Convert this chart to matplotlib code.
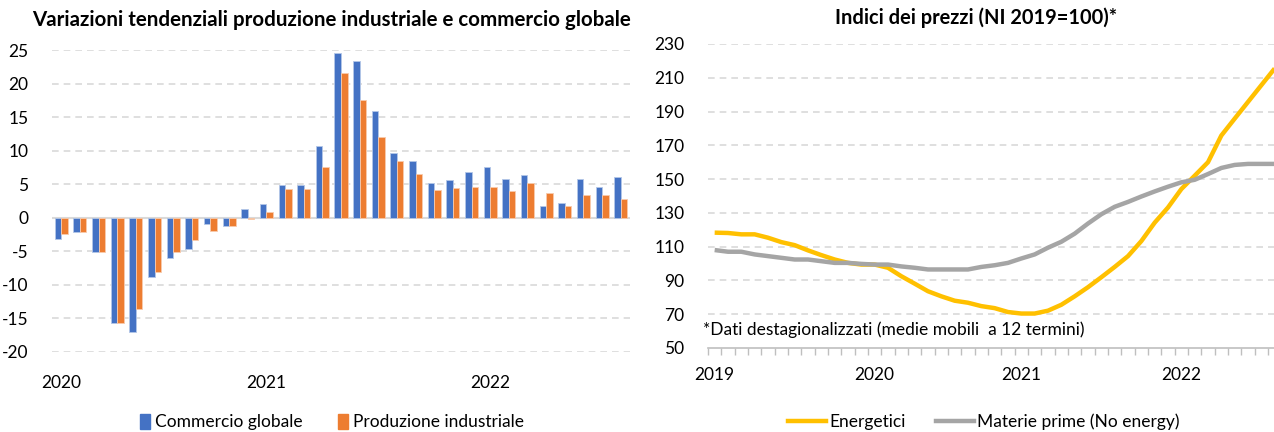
import numpy as np
import matplotlib
matplotlib.use("Agg")
import matplotlib.pyplot as plt
from matplotlib.patches import Patch
from matplotlib.lines import Line2D

plt.rcParams['font.family'] = ['Lato', 'DejaVu Sans']

# ---------------- data: left chart (monthly, Feb 2020 - Aug 2022) ----------------
commercio = [-3.2, -2.2, -5.1, -15.8, -17.1, -8.9, -6.1, -4.7, -0.9, -1.3,
             1.25, 2.0, 4.9, 4.9, 10.6, 24.6, 23.4, 15.85, 9.6, 8.4,
             5.1, 5.6, 6.8, 7.5, 5.8, 6.3, 1.75, 2.2, 5.8, 4.6, 6.0]
produzione = [-2.5, -2.2, -5.1, -15.8, -13.7, -8.2, -5.1, -3.4, -2.0, -1.3,
              -0.2, 0.8, 4.2, 4.2, 7.5, 21.5, 17.5, 12.0, 8.4, 6.5,
              4.1, 4.4, 4.6, 4.6, 3.9, 5.1, 3.6, 1.75, 3.4, 3.4, 2.7]
left_year_labels = ['2020', '2021', '2022']
left_year_pos = [0, 11, 23]
left_yticks = [-20, -15, -10, -5, 0, 5, 10, 15, 20, 25]

# ---------------- data: right chart (monthly, Jan 2019 - Jul 2022) ----------------
energetici = [118.3, 118.1, 117.3, 117.3, 115.3, 112.7, 110.9, 107.8, 105.0, 102.4,
              100.4, 99.4, 99.4, 97.5, 92.5, 88.1, 83.6, 80.6, 78.0, 76.8,
              74.8, 73.6, 71.3, 70.4, 70.4, 72.1, 75.6, 80.6, 86.0, 91.9,
              98.0, 104.4, 113.3, 124.2, 133.2, 144.1, 152.0, 160.0, 175.8, 185.8,
              195.7, 205.6, 215.5]
materie = [108.0, 107.0, 107.0, 105.4, 104.4, 103.4, 102.4, 102.4, 101.4, 100.4,
           100.4, 99.8, 99.4, 99.4, 98.3, 97.5, 96.5, 96.5, 96.5, 96.5,
           98.0, 99.0, 100.4, 103.0, 105.4, 109.4, 112.9, 117.7, 123.7, 129.2,
           133.6, 136.5, 139.7, 142.7, 145.5, 148.1, 149.6, 153.0, 156.6, 158.4,
           159.0, 159.0, 159.0]
right_year_labels = ['2019', '2020', '2021', '2022']
right_year_pos = [0, 12, 23, 35]
right_yticks = [50, 70, 90, 110, 130, 150, 170, 190, 210, 230]

BLUE = '#4472C4'
ORANGE = '#ED7D31'
YELLOW = '#FFC000'
GRAY = '#A5A5A5'
GRID = '#D9D9D9'
TXT = '#000000'

fig = plt.figure(figsize=(12.74, 4.32), dpi=100)

# ---------------- left chart ----------------
ax1 = fig.add_axes([52/1274, 1-351.5/432, (630-52)/1274, (351.5-50)/432])
x = np.arange(len(commercio))
w = 0.35
ax1.bar(x - w/2, commercio, w, color=BLUE, edgecolor='#B4C7E7', linewidth=0.6, zorder=3)
ax1.bar(x + w/2, produzione, w, color=ORANGE, edgecolor='#F8CBAD', linewidth=0.6, zorder=3)
ax1.set_xlim(-0.5, len(commercio) - 0.5)
ax1.set_ylim(-20, 25)
ax1.set_yticks(left_yticks)
ax1.set_yticklabels([str(v) for v in left_yticks])
for v in left_yticks:
    if v != 0:
        ax1.axhline(v, color=GRID, lw=1.2, ls=(0, (4, 3)), zorder=1)
ax1.axhline(0, color='#D9D9D9', lw=1.5, zorder=2)
for s in ax1.spines.values():
    s.set_visible(False)
ax1.set_xticks(left_year_pos)
ax1.set_xticklabels(left_year_labels)
ax1.tick_params(axis='x', length=0, pad=17, labelsize=12.5, colors=TXT)
ax1.tick_params(axis='y', length=0, pad=17, labelsize=12.5, colors=TXT)
fig.text(331/1274, 1-20/432, 'Variazioni tendenziali produzione industriale e commercio globale',
         ha='center', va='center', fontsize=14.8, fontweight='bold', color=TXT)

fig.legend(handles=[Patch(color=BLUE, label='Commercio globale'),
                    Patch(color=ORANGE, label='Produzione industriale')],
           loc='center', bbox_to_anchor=(332/1274, 1-422/432), ncol=2, frameon=False,
           fontsize=12.5, handlelength=0.6, handleheight=1.0, handletextpad=0.3,
           columnspacing=2.0)

# ---------------- right chart ----------------
ax2 = fig.add_axes([708/1274, 1-348/432, (1274-708)/1274, (348-44)/432])
xi = np.arange(len(energetici))
ax2.plot(xi, energetici, color=YELLOW, lw=3.2, solid_capstyle='butt', zorder=3)
ax2.plot(xi, materie, color=GRAY, lw=3.2, solid_capstyle='butt', zorder=3)
ax2.set_xlim(-0.5, 41.95)
ax2.set_ylim(50, 230)
ax2.set_yticks(right_yticks)
ax2.set_yticklabels([str(v) for v in right_yticks])
for v in right_yticks[1:]:
    ax2.axhline(v, color=GRID, lw=1.2, ls=(0, (4, 3)), zorder=1)
for k in ['top', 'right', 'left']:
    ax2.spines[k].set_visible(False)
ax2.spines['bottom'].set_color('#BFBFBF')
ax2.spines['bottom'].set_linewidth(1.2)
ax2.set_xticks(right_year_pos)
ax2.set_xticklabels(right_year_labels)
ax2.set_xticks(np.arange(-0.5, 42, 1), minor=True)
ax2.tick_params(axis='x', which='major', length=0, pad=14, labelsize=12.5, colors=TXT)
ax2.tick_params(axis='x', which='minor', length=5, width=1, color='#BFBFBF', direction='out')
ax2.tick_params(axis='y', length=0, pad=17, labelsize=12.5, colors=TXT)
ax2.text(703/1274, 1-330/432, '*Dati destagionalizzati (medie mobili  a 12 termini)',
         transform=fig.transFigure, ha='left', va='center', fontsize=12.5, color=TXT)
fig.text(976/1274, 1-18/432, 'Indici dei prezzi (NI 2019=100)*',
         ha='center', va='center', fontsize=14.4, fontweight='bold', color=TXT)

fig.legend(handles=[Line2D([], [], color=YELLOW, lw=3.2, label='Energetici'),
                    Line2D([], [], color=GRAY, lw=3.2, label='Materie prime (No energy)')],
           loc='center', bbox_to_anchor=(984/1274, 1-422/432), ncol=2, frameon=False,
           fontsize=12.5, handlelength=2.2, handletextpad=0.2, columnspacing=1.7)

fig.savefig('out.png', dpi=100)
